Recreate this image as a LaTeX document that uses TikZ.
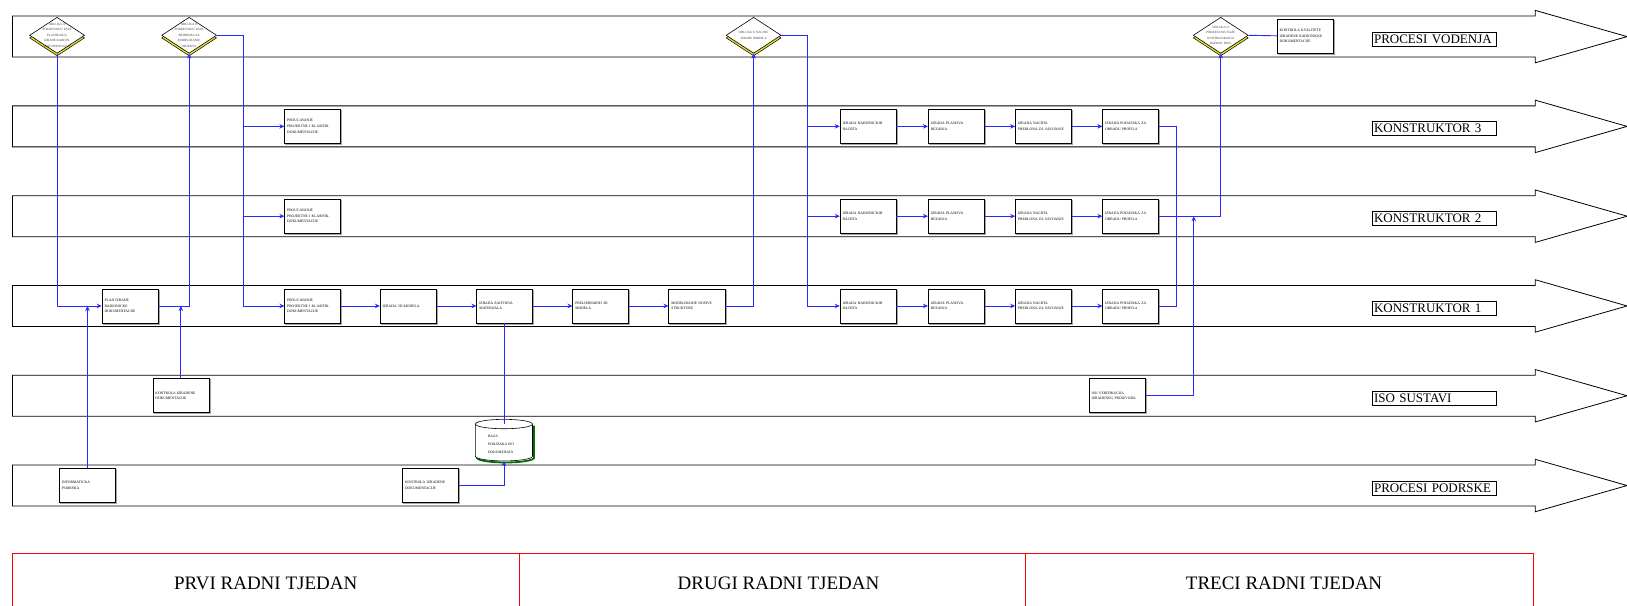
\documentclass[tikz,border=0pt]{standalone}
\usepackage{fontspec}
\setmainfont{Liberation Serif}
\usetikzlibrary{shapes.geometric,arrows.meta,shadows,calc}
\definecolor{conblue}{RGB}{40,40,255}
\definecolor{dyellow}{RGB}{232,226,40}
\definecolor{dbgreen}{RGB}{0,110,0}
\tikzset{
  lane/.style={draw=black, line width=0.8pt, fill=white},
  lanelabel/.style={draw=black, line width=0.5pt, anchor=west, minimum height=14pt, inner sep=1.5pt, text width=121pt, align=left, font=\fontsize{13}{13.5}\selectfont},
  pbox/.style={draw=black, line width=0.6pt, fill=white, anchor=west, minimum height=34pt, inner sep=2.5pt, text width=51pt, align=left, font=\fontsize{3.7}{5.6}\selectfont, general shadow={fill=gray!70, draw=gray!70, shadow xshift=1pt, shadow yshift=-1pt}},
  dec/.style={diamond, draw=black, line width=0.6pt, fill=white, minimum width=55pt, minimum height=36pt, inner sep=0pt, general shadow={fill=dyellow, draw=black, line width=0.5pt, shadow yshift=-2.6pt}},
  dtext/.style={align=center, font=\fontsize{3.2}{5.4}\selectfont, text=black!75},
  conn/.style={draw=conblue, line width=0.9pt},
  arr/.style={conn, -{Stealth[length=5pt,width=4.5pt]}},
  week/.style={font=\fontsize{19}{22}\selectfont},
}
\begin{document}
\begin{tikzpicture}[x=1.038pt,y=-1.038pt]
\useasboundingbox (0,0) rectangle (1567.4,582.9);
% swim lanes
\foreach \t in {15.5,102,188.5,275,361.5,448}{
  \draw[lane] (12,\t) -- (1479,\t) -- (1479,\t-5.5) -- (1567.5,\t+19.75) -- (1479,\t+45) -- (1479,\t+39.5) -- (12,\t+39.5) -- cycle;
}
% lane labels
\node[lanelabel] (lab1) at (1322,37.5) {PROCESI VODENJA};
\node[lanelabel] (lab2) at (1322,124) {KONSTRUKTOR 3};
\node[lanelabel] (lab3) at (1322,210.5) {KONSTRUKTOR 2};
\node[lanelabel] (lab4) at (1322,297) {KONSTRUKTOR 1};
\node[lanelabel] (lab5) at (1322,383.5) {ISO SUSTAVI};
\node[lanelabel] (lab6) at (1322,470) {PROCESI PODRSKE};
% decisions
\node[dec, label={[dtext]center:{ODLUKA O\\POKRETANJU FAZE\\PLANIRANJA\\IZRADE RADION.\\DOKUMENTACIJE}}] (d1) at (55,34) {};
\node[dec, label={[dtext]center:{ODLUKA O\\POKRETANJU FAZE\\PRIPREMA ZA\\MODELIRANJE\\OBJEKTA}}] (d2) at (182.2,34) {};
\node[dec, label={[dtext]center:{ODLUKA O NACINU\\IZRADE MODELA}}] (d3) at (726,34) {};
\node[dec, label={[dtext]center:{ODLUKA O\\POKRETANJU FAZE\\KONTROLIRANJA\\RADION. DOK.}}] (d4) at (1176,34) {};
\node[pbox] (kk) at (1230,34.5) {KONTROLA KVALITETE\\IZRADENE RADIONICKE\\DOKUMENTACIJE};
% Konstruktor 1 start
\node[pbox] (plan) at (98,294.75) {PLAN IZRADE\\RADIONICKE\\DOKUMENTACIJE};
\node[pbox] (pk3) at (274,121.75) {PROUCAVANJE\\PROJEKTNE I KLASIFIK.\\DOKUMENTACIJE};
\node[pbox] (pk2) at (274,208.25) {PROUCAVANJE\\PROJEKTNE I KLASIFIK.\\DOKUMENTACIJE};
\node[pbox] (pk1) at (274,294.75) {PROUCAVANJE\\PROJEKTNE I KLASIFIK.\\DOKUMENTACIJE};
\node[pbox] (m3d) at (366,294.75) {IZRADA 3D MODELA};
\node[pbox] (zah) at (459,294.75) {IZRADA ZAHTJEVA\\MATERIJALA};
\node[pbox] (pre) at (551.5,294.75) {PRELIMINARNI 3D\\MODELA};
\node[pbox] (mod) at (644,294.75) {MODELIRANJE NOSIVE\\STRUKTURE};
% detail rows
\foreach \r/\y in {3/121.75,2/208.25,1/294.75}{
  \node[pbox] (rn\r) at (809,\y) {IZRADA RADIONICKIH\\NACRTA};
  \node[pbox] (pl\r) at (894,\y) {IZRADA PLANOVA\\REZANJA};
  \node[pbox] (np\r) at (978,\y) {IZRADA NACRTA\\PREKLONA ZA SAVIJANJE};
  \node[pbox] (pd\r) at (1062,\y) {IZRADA PODATAKA ZA\\OBRADU PROFILA};
}
% ISO and support
\node[pbox] (kid) at (147,381.25) {KONTROLA IZRADENE\\DOKUMENTACIJE};
\node[pbox] (iso) at (1049,381.25) {ISO VERIFIKACIJA\\IZRADENOG PROIZVODA};
\node[pbox] (info) at (57,467.75) {INFORMATICKA\\PODRSKA};
\node[pbox] (kon6) at (387.5,467.75) {KONTROLA IZRADENE\\DOKUMENTACIJE};
% database cylinder
\node[minimum width=57pt, minimum height=41.5pt, inner sep=0pt] (db) at (485.5,424) {};
\coordinate (dbtop) at (485.5,408.5);
\draw[dbgreen, line width=1.8pt] (514.5,410) -- (514.5,441) arc[start angle=0,end angle=-180,x radius=28.55pt,y radius=4.7pt];
\fill[white] (458,408.5) -- (458,439.5) arc[start angle=180,end angle=360,x radius=28.55pt,y radius=4.7pt] -- (513,408.5) -- cycle;
\draw[line width=0.6pt] (458,408.5) -- (458,439.5) arc[start angle=180,end angle=360,x radius=28.55pt,y radius=4.7pt] -- (513,408.5);
\draw[line width=0.6pt, fill=white] (dbtop) ellipse [x radius=28.55pt, y radius=4.7pt];
\node[anchor=west, align=left, inner sep=0pt, font=\fontsize{3.6}{7.7}\selectfont] (dbt) at (470,428) {BAZA\\PODATAKA ISO\\DOKUMENATA};
% connectors
\draw[arr] (d1.south) |- (plan.west);
\draw[arr] (plan.east) -| (d2.south);
\draw[arr] (info.north) -- (info.north |- plan.west);
\draw[arr] (kid.north) -- (kid.north |- plan.east);
\coordinate (j2) at (234.5,34);
\draw[arr] (d2.east) -- (j2) -- (j2 |- pk1.west) -- (pk1.west);
\draw[arr] (j2 |- pk3.west) -- (pk3.west);
\draw[arr] (j2 |- pk2.west) -- (pk2.west);
\draw[arr] (pk1.east) -- (m3d.west);
\draw[arr] (m3d.east) -- (zah.west);
\draw[arr] (zah.east) -- (pre.west);
\draw[arr] (pre.east) -- (mod.west);
\draw[arr] (mod.east) -| (d3.south);
\coordinate (j3) at (778,34);
\draw[arr] (d3.east) -- (j3) -- (j3 |- rn1.west) -- (rn1.west);
\draw[arr] (j3 |- rn3.west) -- (rn3.west);
\draw[arr] (j3 |- rn2.west) -- (rn2.west);
\foreach \r in {1,2,3}{
  \draw[arr] (rn\r.east) -- (pl\r.west);
  \draw[arr] (pl\r.east) -- (np\r.west);
  \draw[arr] (np\r.east) -- (pd\r.west);
}
\coordinate (j4) at (1133,0);
\draw[conn] (pd3.east) -| (j4 |- pd1.east) -- (pd1.east);
\draw[arr] (pd2.east) -| (d4.south);
\coordinate (j5) at (1150,0);
\draw[arr] (iso.east) -| (j5 |- pd2.east);
\draw[conn] (d4.east) -- (kk.west);
\draw[conn] (zah.south) -- (zah.south |- dbtop);
\draw[arr] (kon6.east) -| (db.south);
% weeks
\draw[red, line width=0.7pt] (12,590) -- (12,533) -- (1477,533) -- (1477,590);
\draw[red, line width=0.7pt] (500,533) -- (500,590);
\draw[red, line width=0.7pt] (988,533) -- (988,590);
\node[week] (w1) at (256,562) {PRVI RADNI TJEDAN};
\node[week] (w2) at (750,562) {DRUGI RADNI TJEDAN};
\node[week] (w3) at (1237,562) {TRECI RADNI TJEDAN};
\end{tikzpicture}
\end{document}
